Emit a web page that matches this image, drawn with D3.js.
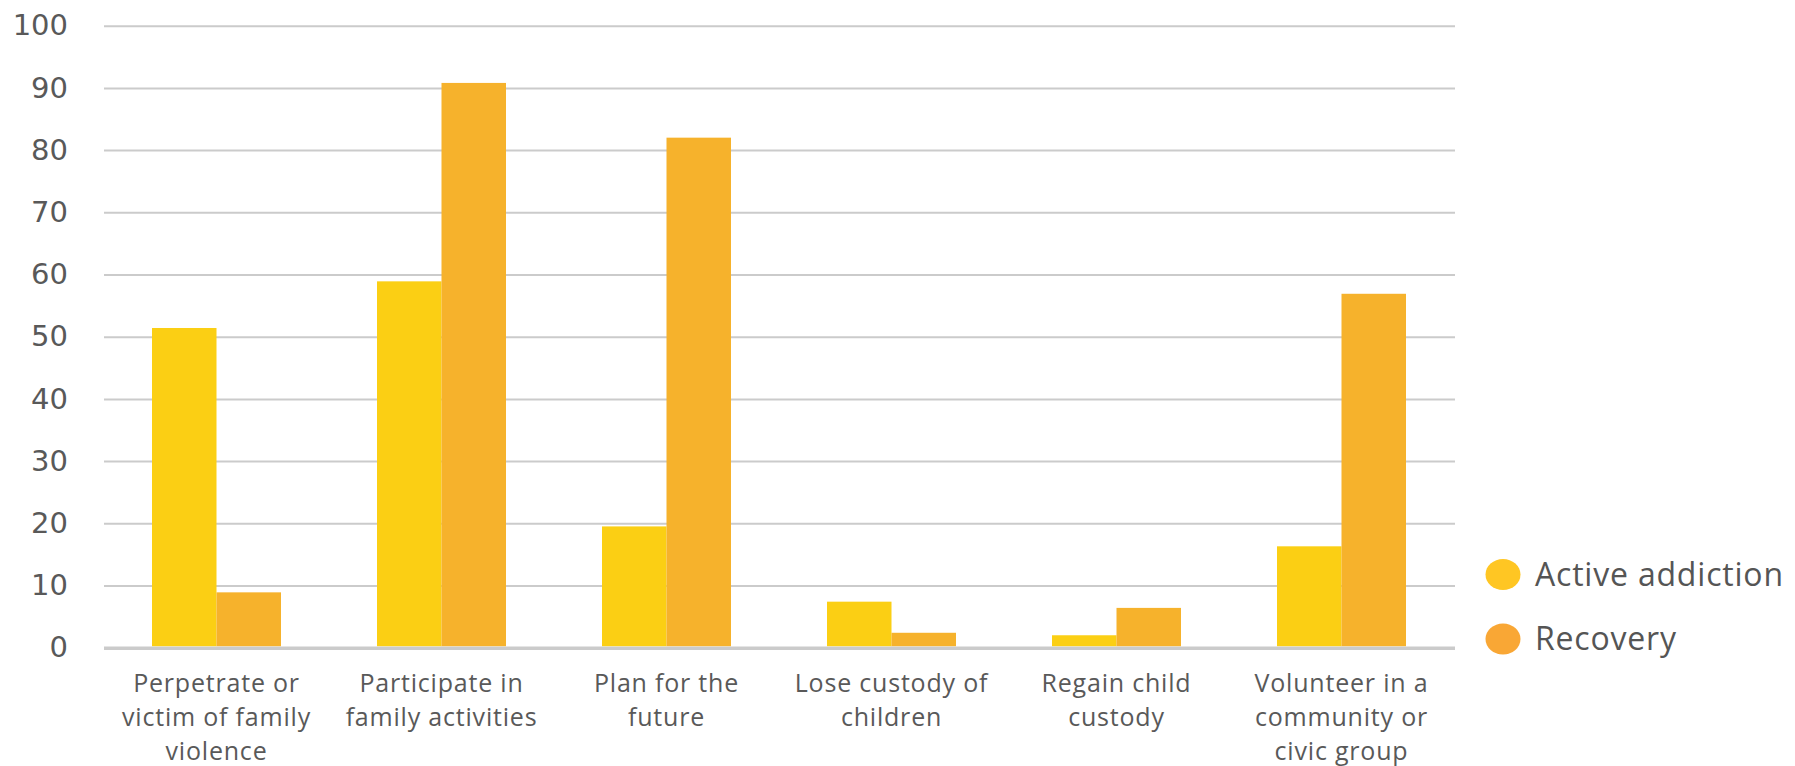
<!DOCTYPE html>
<html>
<head>
<meta charset="utf-8">
<script src="https://cdn.jsdelivr.net/npm/d3@7"></script>
<style>
  html, body { margin: 0; padding: 0; background: #ffffff; }
  svg { display: block; }
</style>
</head>
<body>
<svg id="chart" width="1795" height="766"></svg>
<script>
// Outcomes reported during active addiction vs. recovery (percent)
const categories = [
  ["Perpetrate or", "victim of family", "violence"],
  ["Participate in", "family activities"],
  ["Plan for the", "future"],
  ["Lose custody of", "children"],
  ["Regain child", "custody"],
  ["Volunteer in a", "community or", "civic group"]
];
const seriesNames = ["Active addiction", "Recovery"];
const activeAddiction = [51.4, 58.9, 19.5, 7.4, 2.0, 16.3];
const recovery = [8.9, 90.8, 82.0, 2.4, 6.4, 56.9];
const yTicks = [0, 10, 20, 30, 40, 50, 60, 70, 80, 90, 100];

const barColors = ["#FBCF14", "#F6B22C"];
const legendColors = ["#FFC623", "#F9A735"];

const svg = d3.select("#chart");
const plotLeft = 104, plotRight = 1454, plotTop = 25.7, plotBottom = 647.7;

const catKeys = categories.map((c, i) => i);
const x0 = d3.scaleBand()
  .domain(catKeys)
  .range([plotLeft, plotRight])
  .paddingInner(0.4267)
  .paddingOuter(0.4267 / 2);
const x1 = d3.scaleBand()
  .domain(seriesNames)
  .range([0, x0.bandwidth()]);
const y = d3.scaleLinear().domain([0, 100]).range([plotBottom, plotTop]);

// horizontal gridlines with tick labels
const yAxis = d3.axisLeft(y)
  .tickValues(yTicks)
  .tickSize(-(plotRight - plotLeft + 1))
  .tickPadding(36);
const gy = svg.append("g")
  .attr("transform", `translate(${plotLeft},0)`)
  .call(yAxis);
gy.select(".domain").remove();
gy.selectAll(".tick line")
  .attr("stroke", "#cbcbcb")
  .attr("stroke-width", d => d === 0 ? 3.5 : 2);
gy.selectAll(".tick text")
  .attr("fill", "#595959")
  .attr("font-family", "'DejaVu Sans', sans-serif")
  .attr("font-size", 29);

// grouped bars
const rows = catKeys.map(i => [activeAddiction[i], recovery[i]]);
const groups = svg.append("g").selectAll("g")
  .data(rows)
  .join("g")
  .attr("transform", (d, i) => `translate(${x0(i)},0)`);
groups.selectAll("rect")
  .data(d => d.map((v, j) => ({ v, s: seriesNames[j], j })))
  .join("rect")
  .attr("x", d => x1(d.s))
  .attr("y", d => y(d.v))
  .attr("width", x1.bandwidth())
  .attr("height", d => y(0) - y(d.v) - 1.5)
  .attr("fill", d => barColors[d.j]);

// category labels beneath the axis
const xl = svg.append("g")
  .attr("font-family", "'Open Sans', sans-serif")
  .attr("font-size", 25)
  .attr("letter-spacing", 0.8)
  .attr("fill", "#595959")
  .attr("text-anchor", "middle");
categories.forEach((lines, i) => {
  const cx = x0(i) + x0.bandwidth() / 2;
  const t = xl.append("text")
    .attr("x", cx)
    .attr("y", 692);
  lines.forEach((ln, k) => {
    t.append("tspan")
      .attr("x", cx)
      .attr("dy", k === 0 ? 0 : 34)
      .text(ln);
  });
});

// legend
const legend = svg.append("g")
  .selectAll("g")
  .data(seriesNames)
  .join("g")
  .attr("transform", (d, i) => `translate(1503,${574.5 + i * 64.5})`);
legend.append("ellipse")
  .attr("rx", 17.5)
  .attr("ry", 15.5)
  .attr("fill", (d, i) => legendColors[i]);
legend.append("text")
  .attr("x", 32)
  .attr("dy", "0.35em")
  .attr("font-family", "'Open Sans', sans-serif")
  .attr("font-size", 32)
  .attr("letter-spacing", 0.8)
  .attr("fill", "#555555")
  .text(d => d);
</script>
</body>
</html>
